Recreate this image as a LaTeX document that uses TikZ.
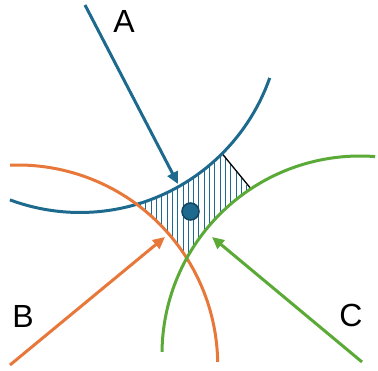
\documentclass[tikz,border=0pt]{standalone}
\usepackage{fontspec}
\setmainfont{Liberation Sans}
\usetikzlibrary{arrows.meta,calc}
\definecolor{cblue}{HTML}{1D6A8E}
\definecolor{cdark}{HTML}{12445E}
\definecolor{corange}{HTML}{E8773A}
\definecolor{cgreen}{HTML}{5BAA37}
\tikzset{
  curve/.style={line width=3pt},
  ray/.style={line width=3pt,-{Triangle[length=12pt,width=11pt]}},
  lbl/.style={font=\fontsize{32}{38}\selectfont,inner sep=0pt},
  hatch/.style={cblue,line width=1pt},
}
\begin{document}
\begin{tikzpicture}[x=1pt,y=1pt]
\useasboundingbox (0,0) rectangle (378,371);
\coordinate (B0) at (80,359.5);
\coordinate (O0) at (17.7,6);
\coordinate (G0) at (360,17);
% hatched region
\begin{scope}
  \clip (100,271) -- (206,240) -- (268.7,156.7) -- (190,41) -- (100,41) -- cycle;
  \clip (0,0) -- (0,371) -- (378,371) -- (378,0) -- cycle (B0) circle[radius=201];
  \clip (0,0) -- (0,371) -- (378,371) -- (378,0) -- cycle (O0) circle[radius=200];
  \clip (0,0) -- (0,371) -- (378,371) -- (378,0) -- cycle (G0) circle[radius=198];
  \foreach \i in {0,...,26} {
    \draw[hatch] ({130+5.3*\i},90) -- ({130+5.3*\i},240);
  }
\end{scope}
% black edge
\draw[line width=1.3pt,black] ($(B0)+(315:201)$) coordinate (e1) -- ($(G0)+(123.4:197)$) coordinate (e2);
% arcs
\draw[curve,cblue] (B0) ++(249.6:201) arc[start angle=249.6,end angle=340.7,radius=201];
\draw[curve,corange] (O0) ++(92.2:200) arc[start angle=92.2,end angle=0.9,radius=200];
\draw[curve,cgreen] (G0) ++(179.4:198) arc[start angle=179.4,end angle=85.6,radius=198];
% dot
\node[circle,fill=cblue,draw=cdark,line width=1.5pt,minimum size=17pt,inner sep=0pt] (dot) at (190.5,159.5) {};
% rays
\coordinate (a0) at (85,366);
\coordinate (a1) at (178,187);
\coordinate (b0) at (10,6);
\coordinate (b1) at (165,134);
\coordinate (c0) at (362,9);
\coordinate (c1) at (212,134);
\draw[ray,cblue] (a0) -- (a1);
\draw[ray,corange] (b0) -- (b1);
\draw[ray,cgreen] (c0) -- (c1);
% labels
\node[lbl] (la) at (124,349) {A};
\node[lbl] (lb) at (23,55) {B};
\node[lbl] (lc) at (351,56) {C};
\end{tikzpicture}
\end{document}
